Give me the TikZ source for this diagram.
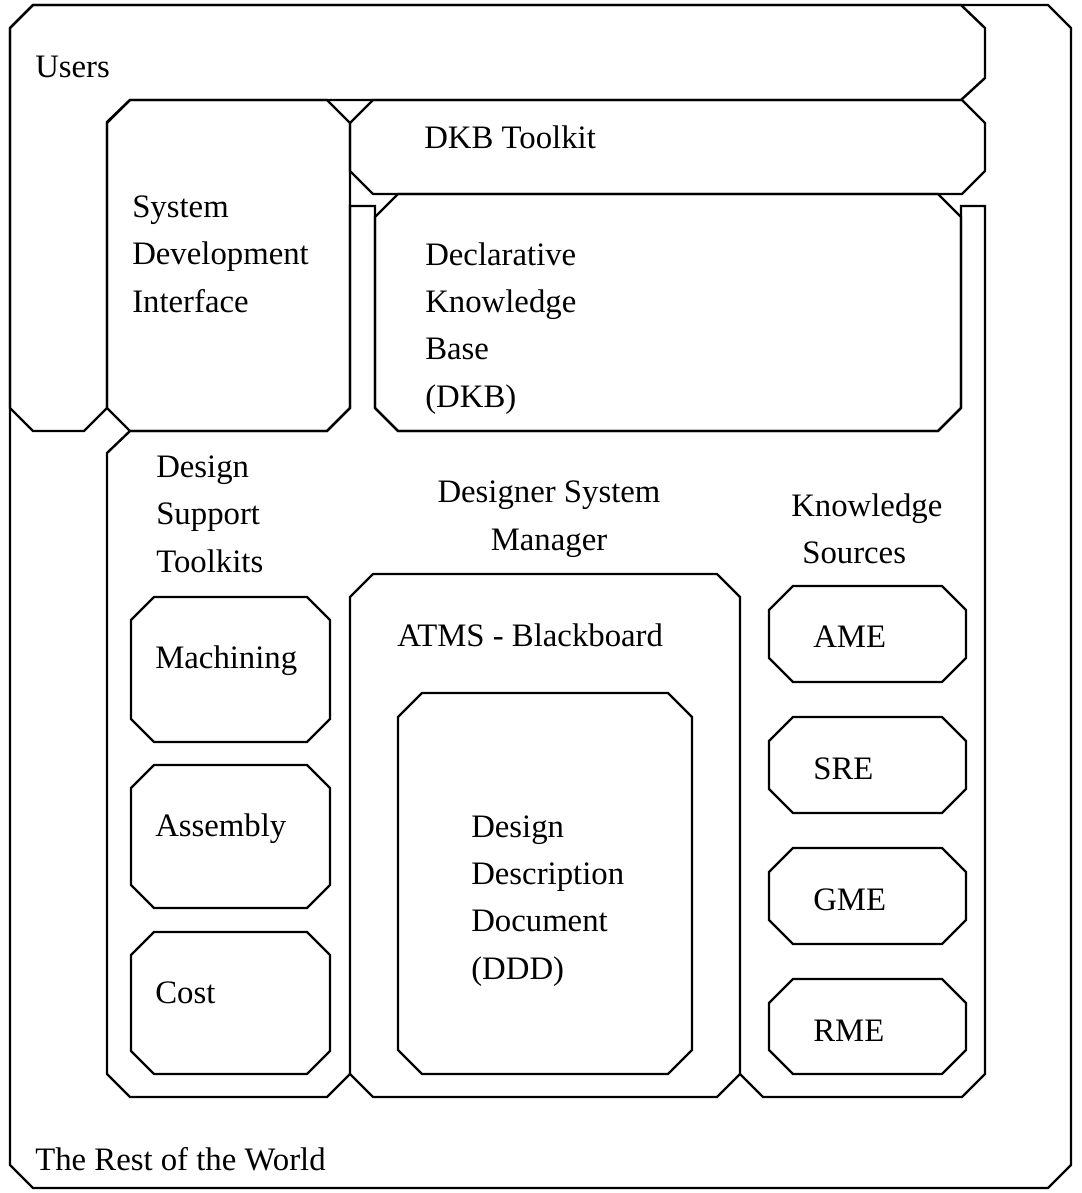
\documentclass[tikz,border=0pt]{standalone}
\usepackage{fontspec}
\setmainfont{Liberation Serif}
\begin{document}
\begin{tikzpicture}[x=0.025cm,y=-0.025cm,
  outline/.style={draw=black,line width=1.7pt,line join=miter},
  label/.style={inner sep=0pt,anchor=base west,align=left,font=\fontsize{23.3}{33.5}\selectfont}]
\newcommand{\chamferbox}[5]{%
  \draw[outline] ({#1+#5},#2) -- ({#3-#5},#2) -- (#3,{#2+#5}) -- (#3,{#4-#5})
    -- ({#3-#5},#4) -- ({#1+#5},#4) -- (#1,{#4-#5}) -- (#1,{#2+#5}) -- cycle;}
\useasboundingbox (0,0) rectangle (1081,1193);

% the rest of the world
\chamferbox{10}{5}{1071}{1188}{23}

% users
\draw[outline] (33,5) -- (961,5) -- (985,28) -- (985,78) -- (961,100) -- (130,100)
  -- (107,122) -- (107,408) -- (84,431) -- (33,431) -- (10,408) -- (10,28) -- cycle;

% system development interface, DKB toolkit, declarative knowledge base
\chamferbox{107}{100}{350}{431}{23}
\chamferbox{350}{100}{985}{194}{23}
\chamferbox{375}{194}{961}{431}{23}

% lower region holding the toolkits, the manager and the knowledge sources
\draw[outline] (130,431) -- (327,431) -- (350,408) -- (350,206) -- (375,206) -- (375,408)
  -- (398,431) -- (938,431) -- (961,408) -- (961,206) -- (985,206) -- (985,1074)
  -- (962,1097) -- (763,1097) -- (740,1074) -- (717,1097) -- (373,1097) -- (350,1074)
  -- (327,1097) -- (130,1097) -- (107,1074) -- (107,453) -- cycle;

% ATMS blackboard
\draw[outline] (350,1074) -- (350,597) -- (373,574) -- (717,574) -- (740,597) -- (740,1074);

% design description document
\chamferbox{398}{693}{692}{1074}{24}

% design support toolkits
\chamferbox{131}{597}{330}{742}{23}
\chamferbox{131}{765}{330}{908}{23}
\chamferbox{131}{932}{330}{1074}{23}

% knowledge sources
\chamferbox{769}{586}{966}{682}{24}
\chamferbox{769}{717}{966}{813}{24}
\chamferbox{769}{848}{966}{944}{24}
\chamferbox{769}{979}{966}{1074}{24}

% labels (multi-line labels are placed by the baseline of their last line)
\node[label] (users) at (35,77) {Users};
\node[label] (sdi) at (132,312) {System\\Development\\Interface};
\node[label] (dkbt) at (424,148) {DKB Toolkit};
\node[label] (dkb) at (425,407) {Declarative\\Knowledge\\Base\\(DKB)};
\node[label] (dst) at (156,572) {Design\\Support\\Toolkits};
\node[label,anchor=base,align=center] (dsm) at (549,550) {Designer System\\Manager};
\node[label] (ks1) at (791,516) {Knowledge};
\node[label] (ks2) at (802,563) {Sources};
\node[label] (atms) at (397,646) {ATMS - Blackboard};
\node[label] (ddd) at (471,979) {Design\\Description\\Document\\(DDD)};
\node[label] (mach) at (155,668) {Machining};
\node[label] (asm) at (155,836) {Assembly};
\node[label] (cost) at (155,1003) {Cost};
\node[label] (ame) at (813,647) {AME};
\node[label] (sre) at (813,779) {SRE};
\node[label] (gme) at (813,910) {GME};
\node[label] (rme) at (813,1041) {RME};
\node[label] (world) at (35,1170) {The Rest of the World};
\end{tikzpicture}
\end{document}
